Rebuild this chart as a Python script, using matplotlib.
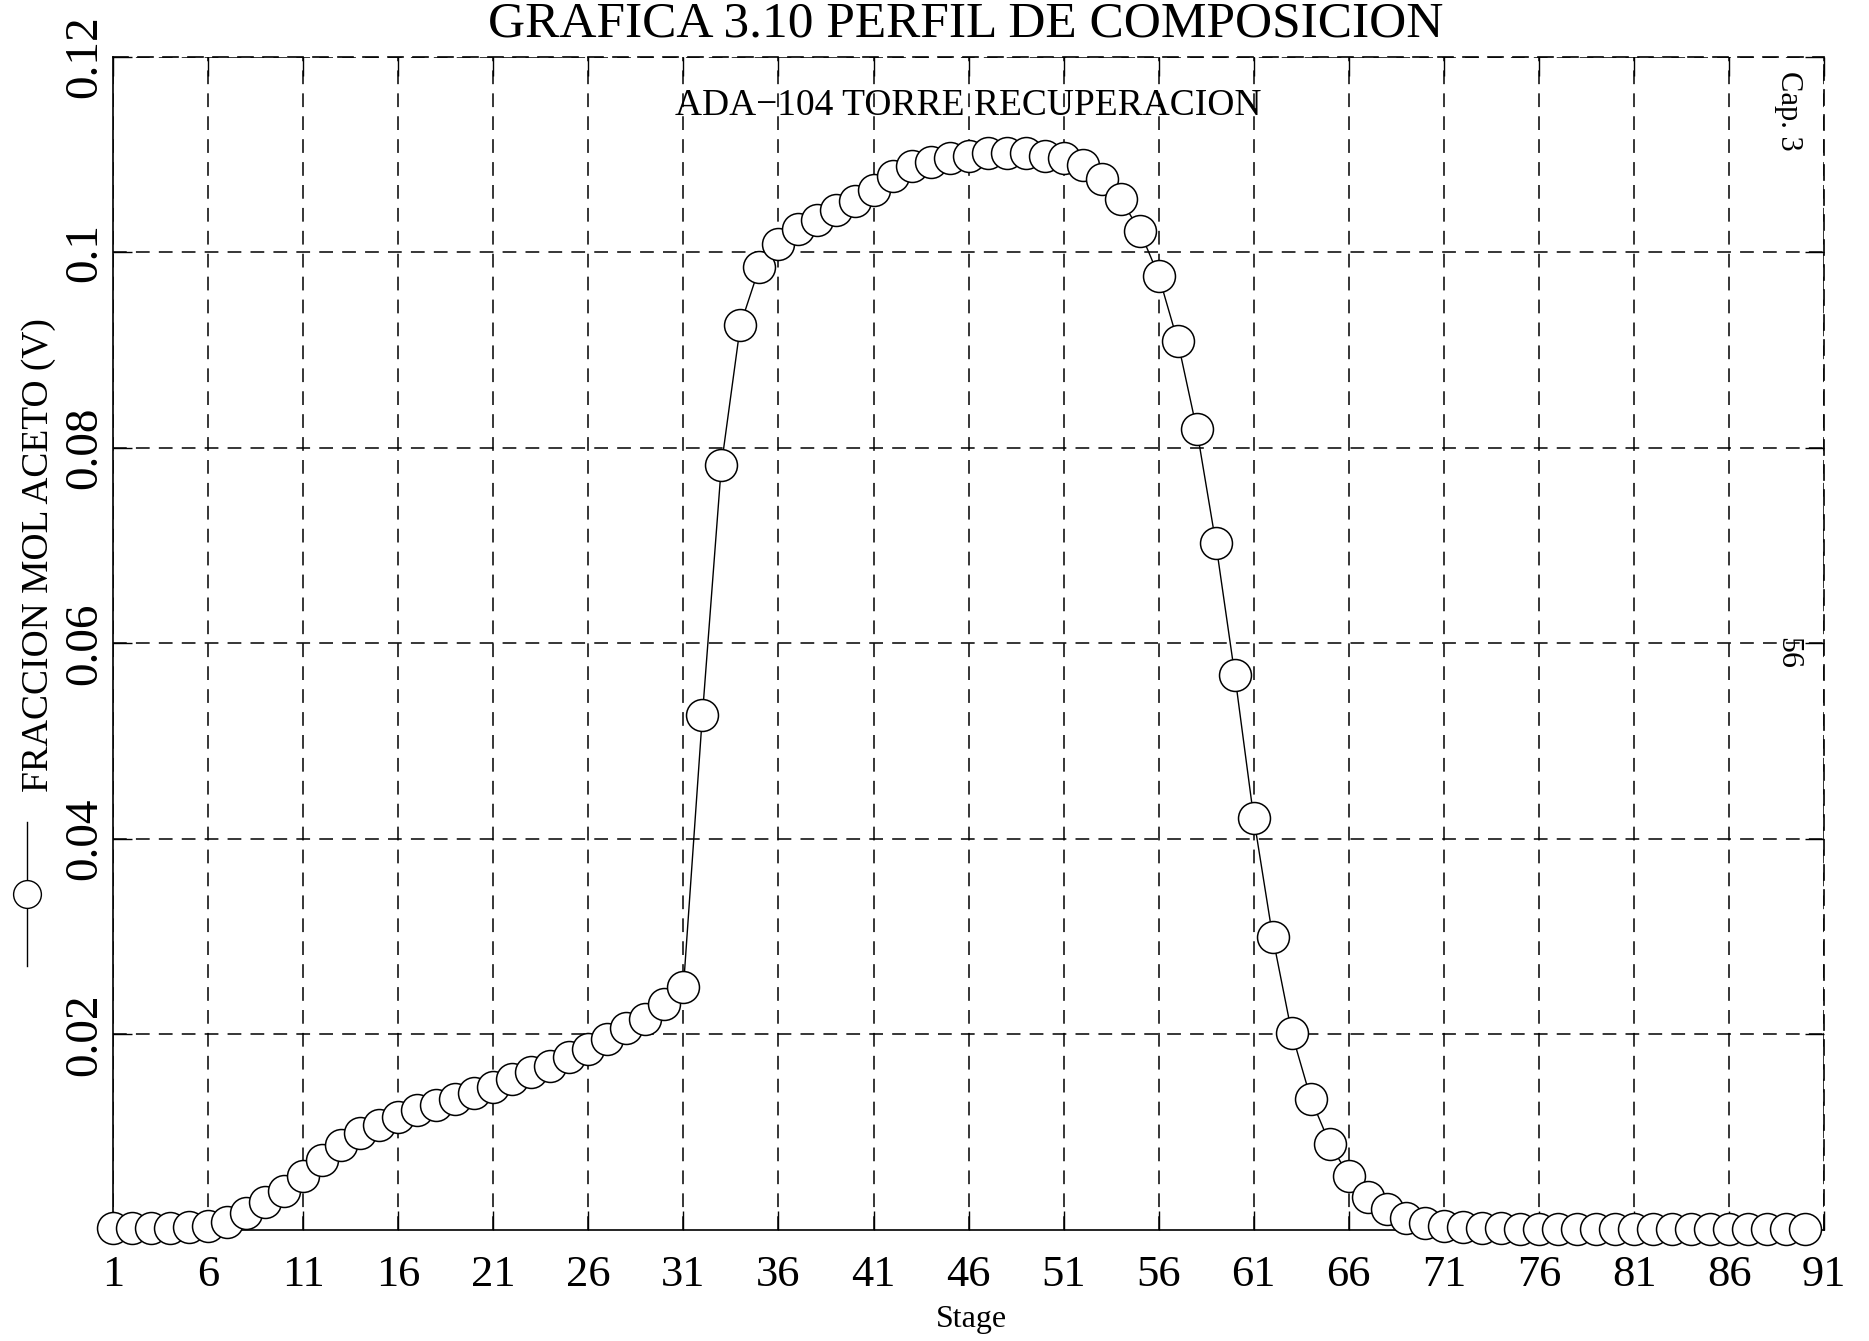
import matplotlib.pyplot as plt
import numpy as np
from matplotlib.lines import Line2D

plt.rcParams['font.family'] = ['Liberation Serif', 'DejaVu Serif']

# datos
stage = np.arange(1, 91)
fraccion = [
    0.0002, 0.0002, 0.0002, 0.0002, 0.0003, 0.0004, 0.0008, 0.0017, 0.0028, 0.0040,
    0.0055, 0.0071, 0.0087, 0.0099, 0.0107, 0.0115, 0.0122, 0.0128, 0.0134, 0.0140,
    0.0146, 0.0154, 0.0161, 0.0168, 0.0177, 0.0185, 0.0195, 0.0206, 0.0216, 0.0231,
    0.0248, 0.0527, 0.0783, 0.0926, 0.0985, 0.1009, 0.1024, 0.1033, 0.1043, 0.1053,
    0.1064, 0.1078, 0.1088, 0.1093, 0.1097, 0.1099, 0.1102, 0.1102, 0.1102, 0.1099,
    0.1097, 0.1089, 0.1075, 0.1055, 0.1022, 0.0976, 0.0909, 0.0819, 0.0703, 0.0568,
    0.0421, 0.0299, 0.0201, 0.0134, 0.0088, 0.0055, 0.0033, 0.0021, 0.0012, 0.0007,
    0.0004, 0.0003, 0.0002, 0.0002, 0.0001, 0.0001, 0.0001, 0.0001, 0.0001, 0.0001,
    0.0001, 0.0001, 0.0001, 0.0001, 0.0001, 0.0001, 0.0001, 0.0001, 0.0001, 0.0001,
]
xticks = np.arange(1, 92, 5)
yticks = [0.02, 0.04, 0.06, 0.08, 0.1, 0.12]
ytick_labels = ['0.02', '0.04', '0.06', '0.08', '0.1', '0.12']

fig = plt.figure(figsize=(18.69, 13.41), dpi=100)
ax = fig.add_axes([0.0605, 0.083, 0.9155, 0.8745])

ax.plot(stage, fraccion, '-', color='black', lw=1.0, marker='o', ms=23,
        mfc='white', mec='black', mew=1.1, clip_on=False, zorder=3)

ax.set_xlim(1, 91)
ax.set_ylim(0, 0.12)
ax.set_xticks(xticks)
ax.set_xticklabels([str(t) for t in xticks], fontsize=32)
ax.set_yticks(yticks)
ax.set_yticklabels(ytick_labels, fontsize=34, rotation=90, va='center')
ax.tick_params(direction='in', length=14, width=1, top=True, right=True, color='black')
ax.tick_params(axis='x', pad=18)
ax.tick_params(axis='y', pad=5)

dash = (0, (9, 6))
ax.grid(True, ls=dash, color='black', lw=1.1)
ax.spines['top'].set_linestyle(dash)
ax.spines['right'].set_linestyle(dash)
for s in ax.spines.values():
    s.set_linewidth(1.2)

ax.text(0.5, 0.958, 'ADA\u2212104 TORRE RECUPERACION', transform=ax.transAxes,
        ha='center', va='center', fontsize=27)

fig.text(0.5165, 0.9725, 'GRAFICA 3.10 PERFIL DE COMPOSICION', ha='center',
         va='baseline', fontsize=37)
fig.text(0.5195, 0.016, 'Stage', ha='center', va='center', fontsize=23)
fig.text(0.0205, 0.586, 'FRACCION MOL ACETO (V)', rotation=90, ha='center',
         va='center', fontsize=27)
# simbolo de la leyenda
fig.add_artist(Line2D([0.0145, 0.0145, 0.0145], [0.387, 0.333, 0.28],
                      transform=fig.transFigure, color='black', lw=1.0,
                      marker='o', markevery=[1], ms=20, mfc='white', mec='black'))

fig.text(0.9567, 0.917, 'Cap. 3', rotation=-90, ha='center', va='center', fontsize=22)
fig.text(0.9567, 0.513, '56', rotation=-90, ha='center', va='center', fontsize=23)

fig.savefig('out.png', dpi=100)
